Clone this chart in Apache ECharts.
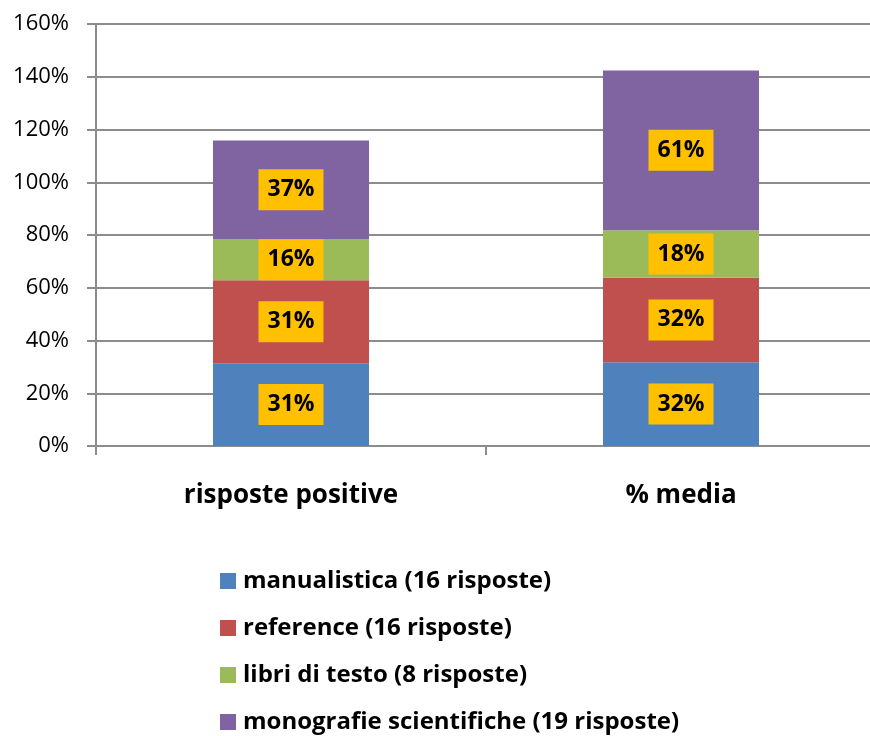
<!DOCTYPE html>
<html>
<head>
<meta charset="utf-8">
<script src="https://cdn.jsdelivr.net/npm/echarts@6/dist/echarts.min.js"></script>
<style>
  html, body { margin: 0; padding: 0; background: #fff; }
  #chart { width: 870px; height: 736px; }
</style>
</head>
<body>
<div id="chart"></div>
<script>
// categorie sull'asse x
const categories = ['risposte positive', '% media']
// percentuali per tipologia
const manualistica = [31.4, 31.8]
const reference = [31.4, 32.0]
const libriTesto = [15.7, 18.0]
const monografie = [37.3, 60.6]
const seriesNames = [
  'manualistica (16 risposte)',
  'reference (16 risposte)',
  'libri di testo (8 risposte)',
  'monografie scientifiche (19 risposte)'
]
const colors = ['#4F81BD', '#C0504D', '#9BBB59', '#8064A2']

const chart = echarts.init(document.getElementById('chart'))

const makeSeries = (name, data, color) => ({
  name,
  type: 'bar',
  stack: 'tot',
  data,
  barWidth: '40%',
  itemStyle: { color },
  label: {
    show: true,
    position: 'inside',
    formatter: p => Math.round(p.value) + '%',
    color: '#000',
    fontFamily: 'Open Sans',
    fontWeight: 'bold',
    fontSize: 23,
    lineHeight: 23,
    backgroundColor: '#FFC000',
    padding: [9, 9]
  }
})

chart.setOption({
  animation: false,
  grid: { left: 96, top: 24, width: 780, height: 422, outerBoundsMode: 'none' },
  legend: {
    orient: 'vertical',
    left: 220,
    top: 569,
    padding: 0,
    itemWidth: 16,
    itemHeight: 16,
    itemGap: 23,
    icon: 'rect',
    textStyle: {
      fontFamily: 'Open Sans',
      fontWeight: 'bold',
      fontSize: 24,
      lineHeight: 24,
      color: '#000',
      padding: [0, 0, 0, 2]
    },
    data: seriesNames
  },
  xAxis: {
    type: 'category',
    data: categories,
    axisLine: { lineStyle: { color: '#8c8c8c', width: 2 } },
    axisTick: { show: true, length: 9, lineStyle: { color: '#8c8c8c', width: 2 } },
    axisLabel: {
      margin: 37,
      color: '#000',
      fontFamily: 'Open Sans',
      fontWeight: 'bold',
      fontSize: 26
    }
  },
  yAxis: {
    type: 'value',
    min: 0,
    max: 160,
    interval: 20,
    axisLine: { show: true, lineStyle: { color: '#8c8c8c', width: 2 } },
    axisTick: { show: true, length: 9, lineStyle: { color: '#8c8c8c', width: 2 } },
    splitLine: { lineStyle: { color: '#8c8c8c', width: 2 } },
    axisLabel: {
      margin: 27,
      color: '#000',
      fontFamily: 'Open Sans',
      fontSize: 22,
      formatter: '{value}%'
    }
  },
  series: [
    makeSeries(seriesNames[0], manualistica, colors[0]),
    makeSeries(seriesNames[1], reference, colors[1]),
    makeSeries(seriesNames[2], libriTesto, colors[2]),
    makeSeries(seriesNames[3], monografie, colors[3])
  ]
})
</script>
</body>
</html>
